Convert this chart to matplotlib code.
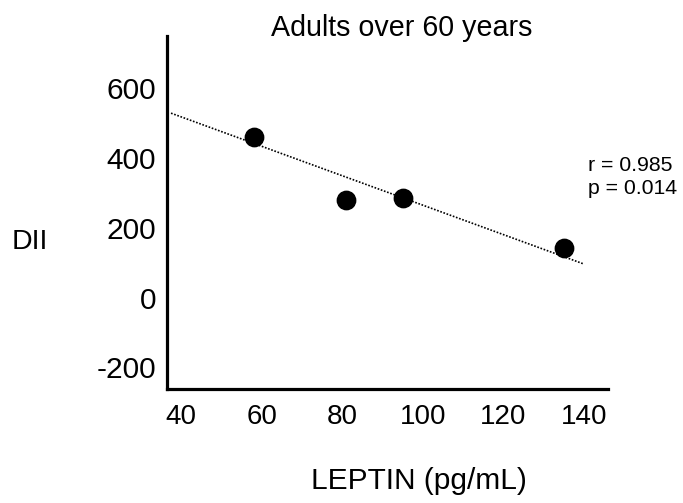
import matplotlib
matplotlib.use("Agg")
import matplotlib.pyplot as plt

plt.rcParams['font.family'] = ['Liberation Sans', 'DejaVu Sans']
plt.rcParams['axes.unicode_minus'] = False

# values
leptin = [58, 81, 95, 135]
dii = [460, 279, 285, 142]
trend_x = [37.5, 140]
trend_y = [528, 96]
xticks = [40, 60, 80, 100, 120, 140]
yticks = [-200, 0, 200, 400, 600]

fig = plt.figure(figsize=(6.83, 5.03), dpi=100)
ax = fig.add_axes([167/683, 1-389/503, (608-167)/683, (389-36)/503])

ax.plot(trend_x, trend_y, color='black', linestyle=(0, (1, 1)), linewidth=1.2, zorder=1)
ax.scatter(leptin, dii, s=175, color='black', zorder=2)

ax.set_xlim(36.5, 146)
ax.set_ylim(-262, 749)
ax.set_xticks(xticks)
ax.set_yticks(yticks)
ax.tick_params(length=0)
ax.tick_params(axis='y', pad=8, labelsize=21.5)
ax.tick_params(axis='x', pad=11, labelsize=20)

for side in ['top', 'right']:
    ax.spines[side].set_visible(False)
for side in ['left', 'bottom']:
    ax.spines[side].set_linewidth(2.3)

fig.text(402/683, 1-28/503, 'Adults over 60 years', ha='center', va='center', fontsize=20.6)
fig.text(30/683, 1-242/503, 'DII', ha='center', va='center', fontsize=20.5)
fig.text(419/683, 1-481/503, 'LEPTIN (pg/mL)', ha='center', va='center', fontsize=21.5)
fig.text(588/683, 1-165/503, 'r = 0.985', ha='left', va='center', fontsize=15.3)
fig.text(588/683, 1-188/503, 'p = 0.014', ha='left', va='center', fontsize=15.3)

fig.savefig('out.png', dpi=100)
